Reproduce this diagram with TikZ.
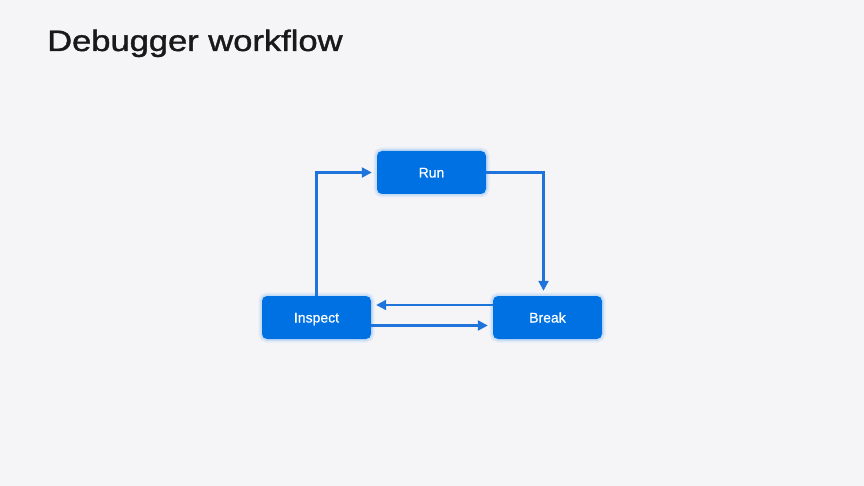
\documentclass[tikz,border=0pt]{standalone}
\usepackage{fontspec}
\setmainfont{Liberation Sans}
\newfontfamily\titlefont{Liberation Sans}[FakeBold=1.2]
\newfontfamily\boxfont{Liberation Sans}[FakeBold=0.6]
\usetikzlibrary{arrows.meta}
\definecolor{bgcol}{HTML}{F5F5F7}
\definecolor{boxcol}{HTML}{0071E3}
\definecolor{arrcol}{HTML}{1F74DB}
\definecolor{glowcol}{HTML}{A9CBF5}
\tikzset{
    stepbox/.style={fill=boxcol, rounded corners=5pt, minimum width=109pt, minimum height=43pt,
        text=white, font=\boxfont\fontsize{14}{16}\selectfont, inner sep=0pt,
        text height=10pt, text depth=0pt,
        preaction={draw=glowcol, draw opacity=0.25, line width=7pt},
        preaction={draw=glowcol, draw opacity=0.45, line width=3.5pt}},
    flow/.style={draw=arrcol, line width=2.2pt, -{Triangle[length=10pt,width=10pt]}, shorten >=5pt}
}
\begin{document}
\begin{tikzpicture}[x=1pt,y=-1pt]
    \fill[bgcol] (0,0) rectangle (864,486);
    \useasboundingbox (0,0) rectangle (864,486);
    % title
    \node[anchor=base west, inner sep=0pt, text=black!90] (title) at (47,51)
        {\titlefont\fontsize{29.5}{34}\selectfont\scalebox{1.17}[1]{Debugger workflow}};
    % boxes
    \node[stepbox] (run) at (431.5,172.5) {Run};
    \node[stepbox] (insp) at (316.5,317.5) {Inspect};
    \node[stepbox] (brk) at (547.5,317.5) {Break};
    % arrows
    \draw[flow] (insp.north) |- (run.west);
    \draw[flow] (run.east) -| ([xshift=-4pt]brk.north);
    \draw[flow] ([yshift=12.5pt]brk.west) -- ([yshift=12.5pt]insp.east);
    \draw[flow] ([yshift=-8pt]insp.east) -- ([yshift=-8pt]brk.west);
\end{tikzpicture}
\end{document}
